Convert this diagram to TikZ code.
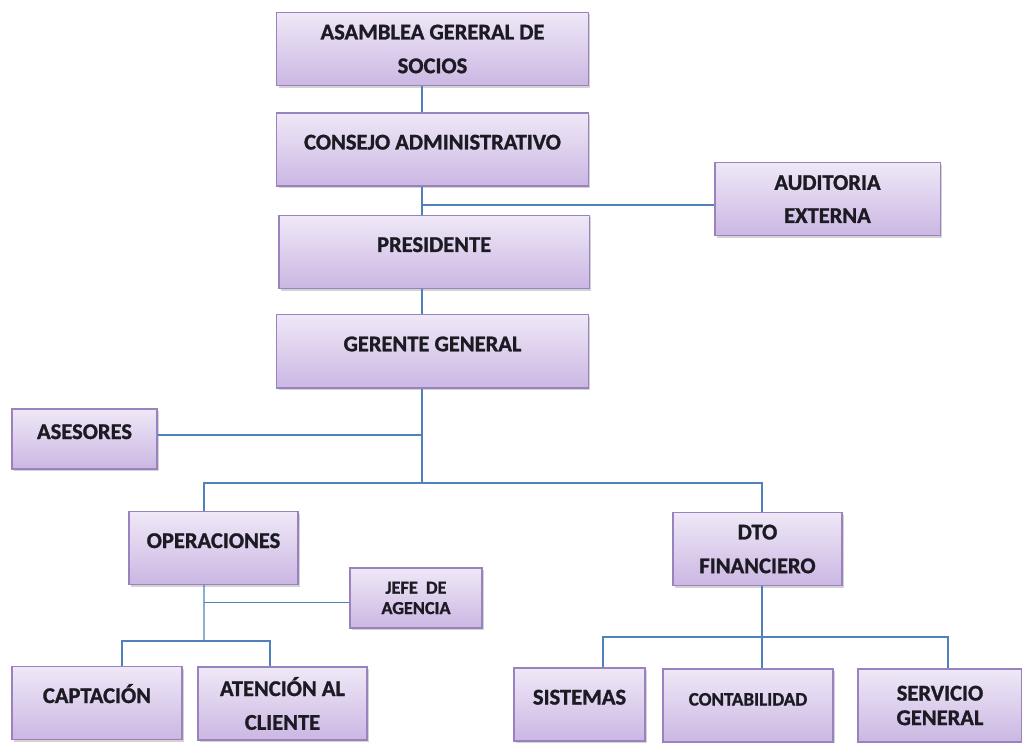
\documentclass[tikz,border=0pt]{standalone}
\usepackage{fontspec}
\setmainfont{Carlito}[BoldFont={Carlito Bold}, BoldFeatures={FakeBold=1.2}]
\usepackage{xcolor}
\usetikzlibrary{positioning, shadows}
\definecolor{boxtop}{HTML}{EFE8F7}
\definecolor{boxbot}{HTML}{CBB7E3}
\definecolor{boxline}{HTML}{9A82BE}
\definecolor{linkblue}{HTML}{4F81BD}
\definecolor{ink}{HTML}{1C1A22}
\tikzset{
  unit/.style={rectangle, draw=boxline, line width=0.9pt, top color=boxtop, bottom color=boxbot,
               drop shadow={shadow xshift=1.5pt, shadow yshift=-1.5pt, opacity=0.35},
               align=center, minimum height=1.83cm, inner sep=2pt, text=ink,
               font=\fontsize{16}{24}\selectfont\bfseries},
  oneline/.style={text height=0.3cm, text depth=0.3cm},
  small/.style={minimum height=1.5cm},
  link/.style={draw=linkblue, line width=0.9pt},
}
\begin{document}
\begin{tikzpicture}[x=0.025cm, y=-0.025cm]
  \useasboundingbox (0,0) rectangle (1022,743);

  % Central column
  \node[unit, minimum width=7.78cm] (asamblea) at (432.5,49) {ASAMBLEA GERERAL DE\\SOCIOS};
  \node[unit, oneline, minimum width=7.78cm, below=0.65cm of asamblea] (consejo) {CONSEJO ADMINISTRATIVO};
  \node[unit, oneline, minimum width=7.75cm, below=0.7cm of consejo, xshift=0.04cm] (presidente) {PRESIDENTE};
  \node[unit, oneline, minimum width=7.78cm, below=0.62cm of presidente, xshift=-0.04cm] (gerente) {GERENTE GENERAL};

  % Side units
  \node[unit, minimum width=5.63cm, font=\fontsize{16}{23.5}\selectfont\bfseries] (auditoria) at (827.5,199) {AUDITORIA\\EXTERNA};
  \node[unit, small, oneline, minimum width=3.63cm] (asesores) at (84.5,439) {ASESORES};

  % Second level
  \node[unit, oneline, minimum width=4.23cm] (operaciones) at (213.5,548) {OPERACIONES};
  \node[unit, minimum width=4.23cm] (dto) at (757.5,549) {DTO\\FINANCIERO};
  \node[unit, small, minimum width=3.3cm, font=\fontsize{13}{14.5}\selectfont\bfseries] (jefe) at (416,598) {JEFE\ \ DE\\AGENCIA};

  % Third level
  \node[unit, oneline, minimum width=4.25cm] (captacion) at (97,703) {CAPTACIÓN};
  \node[unit, minimum width=4.23cm] (atencion) at (282.5,703.5) {ATENCIÓN AL\\CLIENTE};
  \node[unit, oneline, minimum width=3.28cm] (sistemas) at (579.5,704.5) {SISTEMAS};
  \node[unit, oneline, minimum width=4.25cm, font=\fontsize{13.5}{24}\selectfont\bfseries] (contabilidad) at (748,705.5) {CONTABILIDAD};
  \node[unit, minimum width=4.1cm, font=\fontsize{16}{17.5}\selectfont\bfseries] (servicio) at (940,705.5) {SERVICIO\\GENERAL};

  % Junctions
  \coordinate (bar) at (422,483);
  \coordinate (opsbar) at (204,641);
  \coordinate (finbar) at (762,637);

  % Connectors
  \draw[link] ([xshift=-0.26cm]asamblea.south) -- ([xshift=-0.26cm]consejo.north);
  \draw[link] ([xshift=-0.26cm]consejo.south) -- ([xshift=-0.26cm]consejo.south |- presidente.north);
  \draw[link] ([yshift=-0.15cm]auditoria.west) -- ([yshift=-0.15cm]auditoria.west -| bar);
  \draw[link] (bar |- presidente.south) -- (bar |- gerente.north);
  \draw[link] (bar |- gerente.south) -- (bar);
  \draw[link] ([yshift=0.1cm]asesores.east) -- ([yshift=0.1cm]asesores.east -| bar);
  \draw[link] ([xshift=-0.24cm]operaciones.north) |- (bar) -| ([xshift=0.11cm]dto.north);
  \draw[link] ([xshift=-0.24cm]operaciones.south) -- (opsbar);
  \draw[link] ([yshift=-0.12cm]jefe.west) -- ([yshift=-0.12cm]jefe.west -| opsbar);
  \draw[link] ([xshift=0.625cm]captacion.north) |- (opsbar) -| ([xshift=-0.31cm]atencion.north);
  \draw[link] ([xshift=0.11cm]dto.south) -- ([xshift=0.11cm]dto.south |- contabilidad.north);
  \draw[link] ([xshift=0.59cm]sistemas.north) |- (finbar) -| ([xshift=0.2cm]servicio.north);

\end{tikzpicture}
\end{document}
